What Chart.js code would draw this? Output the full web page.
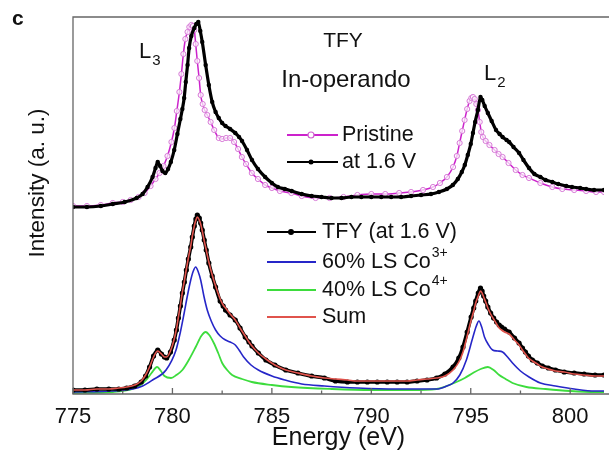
<!DOCTYPE html>
<html>
<head>
<meta charset="utf-8">
<script src="https://cdn.jsdelivr.net/npm/chart.js@4.4.1/dist/chart.umd.min.js"></script>
<style>
  html, body { margin: 0; padding: 0; background: #fff; }
  #wrap { width: 609px; height: 453px; }
</style>
</head>
<body>
<div id="wrap"><canvas id="chart" width="609" height="453"></canvas></div>
<script>
const FONT = '"Liberation Sans", Arial, sans-serif';

// ===== DATA (intensity in a.u., upper pair offset by ~1.85) =====
const pristineE = [775.0, 775.7, 776.4, 777.0, 777.5, 777.9, 778.3, 778.6, 778.9, 779.15,
    779.35, 779.55, 779.75, 779.95, 780.1, 780.22, 780.35, 780.45, 780.55, 780.65,
    780.76, 780.85, 780.95, 781.03, 781.1, 781.17, 781.25, 781.34, 781.42, 781.52,
    781.62, 781.75, 781.92, 782.1, 782.33, 782.5, 782.7, 782.9, 783.1, 783.3,
    783.49, 783.7, 783.99, 784.3, 784.66, 785.0, 785.4, 785.98, 786.5, 787.2,
    787.9, 788.6, 789.3, 790.0, 790.7, 791.4, 792.0, 792.6, 793.1, 793.45,
    793.8, 794.11, 794.3, 794.44, 794.57, 794.69, 794.82, 794.94, 795.03, 795.11,
    795.2, 795.28, 795.36, 795.45, 795.53, 795.61, 795.75, 795.94, 796.2, 796.4,
    796.6, 796.9, 797.26, 797.6, 797.93, 798.5, 799.1, 799.6, 800.2, 800.8,
    801.3, 801.7];
const pristineI = [1.88, 1.88, 1.89, 1.91, 1.92, 1.94, 1.97, 2.01, 2.08, 2.15,
    2.21, 2.28, 2.38, 2.52, 2.66, 2.83, 3.02, 3.20, 3.40, 3.55,
    3.62, 3.67, 3.69, 3.68, 3.64, 3.50, 3.33, 3.16, 2.99, 2.90,
    2.84, 2.79, 2.72, 2.64, 2.56, 2.55, 2.56, 2.56, 2.52, 2.45,
    2.37, 2.30, 2.21, 2.15, 2.09, 2.06, 2.03, 2.01, 1.98, 1.96,
    1.96, 1.97, 1.99, 2.00, 2.00, 2.01, 2.02, 2.04, 2.07, 2.11,
    2.17, 2.27, 2.38, 2.51, 2.63, 2.74, 2.85, 2.93, 2.96, 2.97,
    2.95, 2.90, 2.84, 2.72, 2.62, 2.57, 2.53, 2.49, 2.44, 2.40,
    2.37, 2.31, 2.24, 2.19, 2.16, 2.11, 2.07, 2.05, 2.04, 2.03,
    2.02, 2.02];

const chargedE = [775.0, 775.7, 776.4, 777.0, 777.6, 778.2, 778.5, 778.75, 779.0, 779.15,
    779.26, 779.38, 779.5, 779.64, 779.78, 779.92, 780.09, 780.25, 780.4, 780.5,
    780.59, 780.67, 780.76, 780.84, 780.95, 781.1, 781.2, 781.3, 781.4, 781.5,
    781.67, 781.83, 782.0, 782.17, 782.33, 782.5, 782.67, 782.9, 783.16, 783.35,
    783.5, 783.75, 784.0, 784.3, 784.66, 785.0, 785.3, 785.65, 786.0, 786.5,
    787.0, 787.5, 788.0, 788.5, 789.0, 789.5, 790.0, 790.5, 791.0, 791.5,
    792.0, 792.5, 793.0, 793.4, 793.8, 794.1, 794.35, 794.55, 794.7, 794.85,
    795.0, 795.11, 795.22, 795.36, 795.49, 795.58, 795.7, 795.86, 796.05, 796.27,
    796.45, 796.6, 796.8, 796.93, 797.15, 797.43, 797.65, 797.93, 798.2, 798.5,
    798.76, 799.1, 799.4, 799.8, 800.09, 800.5, 800.8, 801.2, 801.7];
const chargedI = [1.87, 1.87, 1.88, 1.90, 1.92, 1.96, 2.00, 2.07, 2.17, 2.26,
    2.32, 2.28, 2.23, 2.21, 2.25, 2.32, 2.44, 2.60, 2.75, 2.85,
    2.96, 3.12, 3.29, 3.46, 3.58, 3.66, 3.70, 3.72, 3.63, 3.52,
    3.29, 3.09, 2.92, 2.82, 2.76, 2.71, 2.68, 2.65, 2.61, 2.57,
    2.53, 2.44, 2.34, 2.25, 2.17, 2.11, 2.07, 2.05, 2.03, 2.00,
    1.98, 1.97, 1.96, 1.96, 1.97, 1.97, 1.97, 1.97, 1.97, 1.97,
    1.98, 1.99, 2.00, 2.02, 2.05, 2.09, 2.15, 2.22, 2.29, 2.39,
    2.50, 2.61, 2.72, 2.84, 2.97, 2.94, 2.88, 2.81, 2.73, 2.64,
    2.60, 2.57, 2.54, 2.52, 2.47, 2.41, 2.34, 2.26, 2.20, 2.17,
    2.14, 2.12, 2.10, 2.08, 2.07, 2.06, 2.05, 2.04, 2.04];

const fitE = [775.0, 775.6, 776.2, 776.8, 777.3, 777.7, 778.1, 778.43, 778.65, 778.85,
    779.05, 779.26, 779.45, 779.6, 779.71, 779.9, 780.09, 780.2, 780.3, 780.4,
    780.5, 780.6, 780.7, 780.8, 780.92, 781.0, 781.1, 781.18, 781.25, 781.35,
    781.42, 781.5, 781.6, 781.7, 781.83, 782.0, 782.17, 782.4, 782.55, 782.67,
    782.9, 783.16, 783.4, 783.66, 783.85, 784.0, 784.32, 784.7, 785.15, 785.7,
    786.31, 787.0, 787.64, 788.2, 788.8, 789.3, 789.8, 790.3, 790.8, 791.3,
    791.8, 792.3, 792.8, 793.28, 793.7, 794.11, 794.4, 794.61, 794.82, 795.02,
    795.15, 795.25, 795.38, 795.49, 795.57, 795.65, 795.75, 795.86, 796.0, 796.15,
    796.3, 796.43, 796.55, 796.7, 796.93, 797.2, 797.43, 797.6, 797.75, 797.9,
    798.1, 798.35, 798.6, 798.9, 799.26, 799.7, 800.2, 800.7, 801.25, 801.7];
const tfyI = [0.04, 0.04, 0.05, 0.05, 0.05, 0.06, 0.08, 0.12, 0.18, 0.27,
    0.38, 0.44, 0.40, 0.37, 0.36, 0.42, 0.54, 0.64, 0.76, 0.88,
    1.01, 1.12, 1.24, 1.35, 1.47, 1.57, 1.68, 1.75, 1.79, 1.76,
    1.71, 1.64, 1.54, 1.44, 1.31, 1.18, 1.07, 0.93, 0.88, 0.84,
    0.79, 0.74, 0.66, 0.57, 0.52, 0.48, 0.41, 0.34, 0.29, 0.24,
    0.21, 0.18, 0.16, 0.13, 0.12, 0.12, 0.12, 0.12, 0.12, 0.12,
    0.12, 0.13, 0.14, 0.16, 0.20, 0.27, 0.36, 0.47, 0.62, 0.77,
    0.86, 0.93, 1.01, 1.06, 1.03, 0.98, 0.93, 0.87, 0.81, 0.76,
    0.72, 0.69, 0.67, 0.65, 0.62, 0.56, 0.51, 0.46, 0.42, 0.38,
    0.34, 0.31, 0.28, 0.26, 0.24, 0.22, 0.21, 0.20, 0.19, 0.19];
const sumI = [0.04, 0.04, 0.05, 0.05, 0.06, 0.07, 0.09, 0.13, 0.19, 0.27,
    0.37, 0.43, 0.40, 0.37, 0.37, 0.43, 0.55, 0.65, 0.77, 0.89,
    1.02, 1.13, 1.25, 1.36, 1.48, 1.58, 1.68, 1.74, 1.77, 1.74,
    1.70, 1.63, 1.53, 1.44, 1.32, 1.19, 1.08, 0.95, 0.89, 0.86,
    0.80, 0.74, 0.66, 0.58, 0.52, 0.48, 0.41, 0.35, 0.29, 0.24,
    0.21, 0.18, 0.16, 0.15, 0.14, 0.13, 0.13, 0.13, 0.13, 0.13,
    0.13, 0.14, 0.15, 0.16, 0.18, 0.24, 0.32, 0.42, 0.58, 0.74,
    0.83, 0.91, 0.98, 1.03, 1.01, 0.97, 0.92, 0.86, 0.80, 0.75,
    0.70, 0.66, 0.64, 0.62, 0.60, 0.54, 0.49, 0.44, 0.40, 0.36,
    0.33, 0.30, 0.27, 0.25, 0.23, 0.22, 0.20, 0.19, 0.18, 0.18];

const co3E = [775.0, 777.0, 778.0, 778.5, 779.0, 779.68, 780.18, 780.4, 780.59, 780.75, 780.92, 781.05, 781.17, 781.3, 781.42, 781.58, 781.75, 781.95, 782.17, 782.4, 782.67, 782.9, 783.16, 783.35, 783.58, 783.95, 784.32, 785.0, 785.65, 786.5, 787.64, 789.3, 791.3, 793.28, 793.8, 794.11, 794.45, 794.78, 795.11, 795.28, 795.41, 795.55, 795.69, 795.9, 796.1, 796.35, 796.6, 796.85, 797.1, 797.5, 797.93, 798.5, 799.26, 800.2, 801.25, 801.7];
const co3I = [0.02, 0.03, 0.05, 0.08, 0.14, 0.24, 0.44, 0.62, 0.81, 0.98, 1.14, 1.23, 1.27, 1.22, 1.14, 0.98, 0.84, 0.73, 0.64, 0.58, 0.54, 0.52, 0.49, 0.44, 0.37, 0.29, 0.24, 0.18, 0.14, 0.10, 0.08, 0.06, 0.05, 0.05, 0.08, 0.11, 0.19, 0.34, 0.57, 0.68, 0.73, 0.67, 0.57, 0.49, 0.44, 0.43, 0.42, 0.37, 0.31, 0.23, 0.17, 0.11, 0.08, 0.05, 0.03, 0.03];

const co4E = [775.0, 777.0, 778.0, 778.4, 778.68, 778.95, 779.23, 779.42, 779.6, 779.93, 780.2, 780.5, 780.85, 781.17, 781.45, 781.67, 781.85, 782.08, 782.3, 782.5, 782.75, 783.0, 783.5, 783.99, 785.0, 785.98, 788.0, 790.0, 792.0, 793.28, 794.28, 794.7, 795.11, 795.5, 795.86, 796.15, 796.43, 796.75, 797.1, 797.8, 798.76, 800.0, 801.25, 801.7];
const co4I = [0.01, 0.02, 0.05, 0.09, 0.14, 0.21, 0.27, 0.23, 0.18, 0.16, 0.19, 0.24, 0.35, 0.47, 0.58, 0.62, 0.59, 0.51, 0.41, 0.31, 0.24, 0.19, 0.15, 0.12, 0.09, 0.07, 0.05, 0.04, 0.04, 0.05, 0.12, 0.16, 0.21, 0.25, 0.27, 0.24, 0.19, 0.15, 0.11, 0.07, 0.05, 0.03, 0.02, 0.02];

const xMajor = [775, 780, 785, 790, 795, 800];
const xMinor = [777.5, 782.5, 787.5, 792.5, 797.5];

const pts = (xs, ys) => xs.map((x, i) => ({ x: x, y: ys[i] }));

const PINK = '#cc22cc', BLUE = '#2626c8', GREEN = '#3ddc3d', RED = '#e0534c';

// ===== EXTRA DRAWING: frame, inside ticks, labels, legends =====
function drawScript(ctx, x, y, base, script, size, small, up) {
    ctx.font = size + 'px ' + FONT;
    ctx.fillText(base, x, y);
    const w = ctx.measureText(base).width;
    ctx.font = small + 'px ' + FONT;
    ctx.fillText(script, x + w + 1, y + (up ? -size * 0.4 : size * 0.32));
}

const decor = {
    id: 'decor',
    afterDatasetsDraw(chart) {
        const ctx = chart.ctx, a = chart.chartArea, xs = chart.scales.x;
        ctx.save();
        // frame (right side is cut off in the figure)
        ctx.strokeStyle = '#666';
        ctx.lineWidth = 1.3;
        ctx.beginPath();
        ctx.moveTo(chart.width, a.top); ctx.lineTo(a.left, a.top);
        ctx.lineTo(a.left, a.bottom); ctx.lineTo(chart.width, a.bottom);
        ctx.stroke();
        ctx.beginPath();
        xMajor.forEach(v => { const p = xs.getPixelForValue(v); ctx.moveTo(p, a.bottom); ctx.lineTo(p, a.bottom - 6); });
        xMinor.forEach(v => { const p = xs.getPixelForValue(v); ctx.moveTo(p, a.bottom); ctx.lineTo(p, a.bottom - 3.5); });
        ctx.stroke();

        ctx.fillStyle = '#111';
        ctx.textBaseline = 'alphabetic';
        ctx.textAlign = 'left';
        ctx.font = 'bold 21px ' + FONT;
        ctx.fillText('c', 12, 25);

        // y title
        ctx.save();
        ctx.translate(38, 183);
        ctx.rotate(-Math.PI / 2);
        ctx.textAlign = 'center';
        ctx.textBaseline = 'middle';
        ctx.font = '22.5px ' + FONT;
        ctx.fillText('Intensity (a. u.)', 0, 0);
        ctx.restore();

        drawScript(ctx, 139, 58, 'L', '3', 22, 15, false);
        drawScript(ctx, 484, 80, 'L', '2', 22, 15, false);
        ctx.textAlign = 'center';
        ctx.font = '21px ' + FONT;
        ctx.fillText('TFY', 343, 47);
        ctx.font = '24px ' + FONT;
        ctx.fillText('In-operando', 346, 87);
        ctx.textAlign = 'left';

        // upper legend
        ctx.textBaseline = 'middle';
        ctx.lineWidth = 2;
        ctx.strokeStyle = PINK;
        ctx.beginPath(); ctx.moveTo(287, 135); ctx.lineTo(338, 135); ctx.stroke();
        ctx.fillStyle = '#fff'; ctx.lineWidth = 1.2; ctx.strokeStyle = '#d060d0';
        ctx.beginPath(); ctx.arc(311, 135, 3, 0, Math.PI * 2); ctx.fill(); ctx.stroke();
        ctx.strokeStyle = '#000'; ctx.lineWidth = 1.8;
        ctx.beginPath(); ctx.moveTo(287, 162); ctx.lineTo(338, 162); ctx.stroke();
        ctx.fillStyle = '#000';
        ctx.beginPath(); ctx.arc(311, 162, 2.5, 0, Math.PI * 2); ctx.fill();
        ctx.fillStyle = '#111';
        ctx.font = '21.5px ' + FONT;
        ctx.fillText('Pristine', 342, 135);
        ctx.fillText('at 1.6 V', 342, 162);

        // lower legend
        const rows = [
            { y: 232, c: '#000', dot: true, base: 'TFY (at 1.6 V)', sup: '' },
            { y: 262, c: BLUE, base: '60% LS Co', sup: '3+' },
            { y: 290, c: GREEN, base: '40% LS Co', sup: '4+' },
            { y: 317, c: RED, base: 'Sum', sup: '' }
        ];
        rows.forEach(r => {
            ctx.strokeStyle = r.c; ctx.lineWidth = 1.8;
            ctx.beginPath(); ctx.moveTo(267, r.y); ctx.lineTo(316, r.y); ctx.stroke();
            if (r.dot) { ctx.fillStyle = '#000'; ctx.beginPath(); ctx.arc(291, r.y, 3, 0, Math.PI * 2); ctx.fill(); }
            ctx.fillStyle = '#111';
            if (r.sup) drawScript(ctx, 322, r.y, r.base, r.sup, 21.5, 14, true);
            else { ctx.font = '21.5px ' + FONT; ctx.fillText(r.base, 322, r.y); }
        });
        ctx.restore();
    }
};

new Chart(document.getElementById('chart'), {
    type: 'line',
    data: {
        datasets: [
            { label: 'Pristine', data: pts(pristineE, pristineI), borderColor: PINK, borderWidth: 1.5,
              pointRadius: 2.6, pointStyle: 'circle', pointBackgroundColor: 'rgba(255,255,255,0.7)',
              pointBorderColor: '#d77ad7', pointBorderWidth: 1, order: 5 },
            { label: 'at 1.6 V', data: pts(chargedE, chargedI), borderColor: '#000', borderWidth: 3.2,
              pointRadius: 2.2, pointBackgroundColor: '#000', pointBorderWidth: 0, order: 4 },
            { label: '60% LS Co3+', data: pts(co3E, co3I), borderColor: BLUE, borderWidth: 1.6, pointRadius: 0, order: 3 },
            { label: '40% LS Co4+', data: pts(co4E, co4I), borderColor: GREEN, borderWidth: 1.8, pointRadius: 0, order: 3 },
            { label: 'TFY (at 1.6 V)', data: pts(fitE, tfyI), borderColor: '#000', borderWidth: 3.6,
              pointRadius: 2.6, pointBackgroundColor: '#000', pointBorderWidth: 0, order: 2 },
            { label: 'Sum', data: pts(fitE, sumI), borderColor: RED, borderWidth: 1.6, pointRadius: 0, order: 0 }
        ]
    },
    options: {
        responsive: false,
        animation: false,
        devicePixelRatio: 1,
        layout: { padding: { top: 17, right: 0, left: 0, bottom: 0 } },
        plugins: { legend: { display: false }, tooltip: { enabled: false } },
        elements: { line: { cubicInterpolationMode: 'monotone' } },
        scales: {
            x: {
                type: 'linear', min: 775, max: 801.7,
                grid: { display: false, drawTicks: false },
                border: { display: false },
                ticks: { stepSize: 5, includeBounds: false, padding: 10, color: '#111', maxRotation: 0,
                         font: { family: FONT, size: 22 } },
                title: { display: true, text: 'Energy (eV)', color: '#111',
                         font: { family: FONT, size: 25 }, padding: { top: 0, bottom: 0 } },
                afterFit: s => { s.height = 59; }
            },
            y: {
                min: 0, max: 3.77,
                grid: { display: false },
                border: { display: false },
                ticks: { display: false },
                afterFit: s => { s.width = 73; }
            }
        }
    },
    plugins: [decor]
});
</script>
</body>
</html>
